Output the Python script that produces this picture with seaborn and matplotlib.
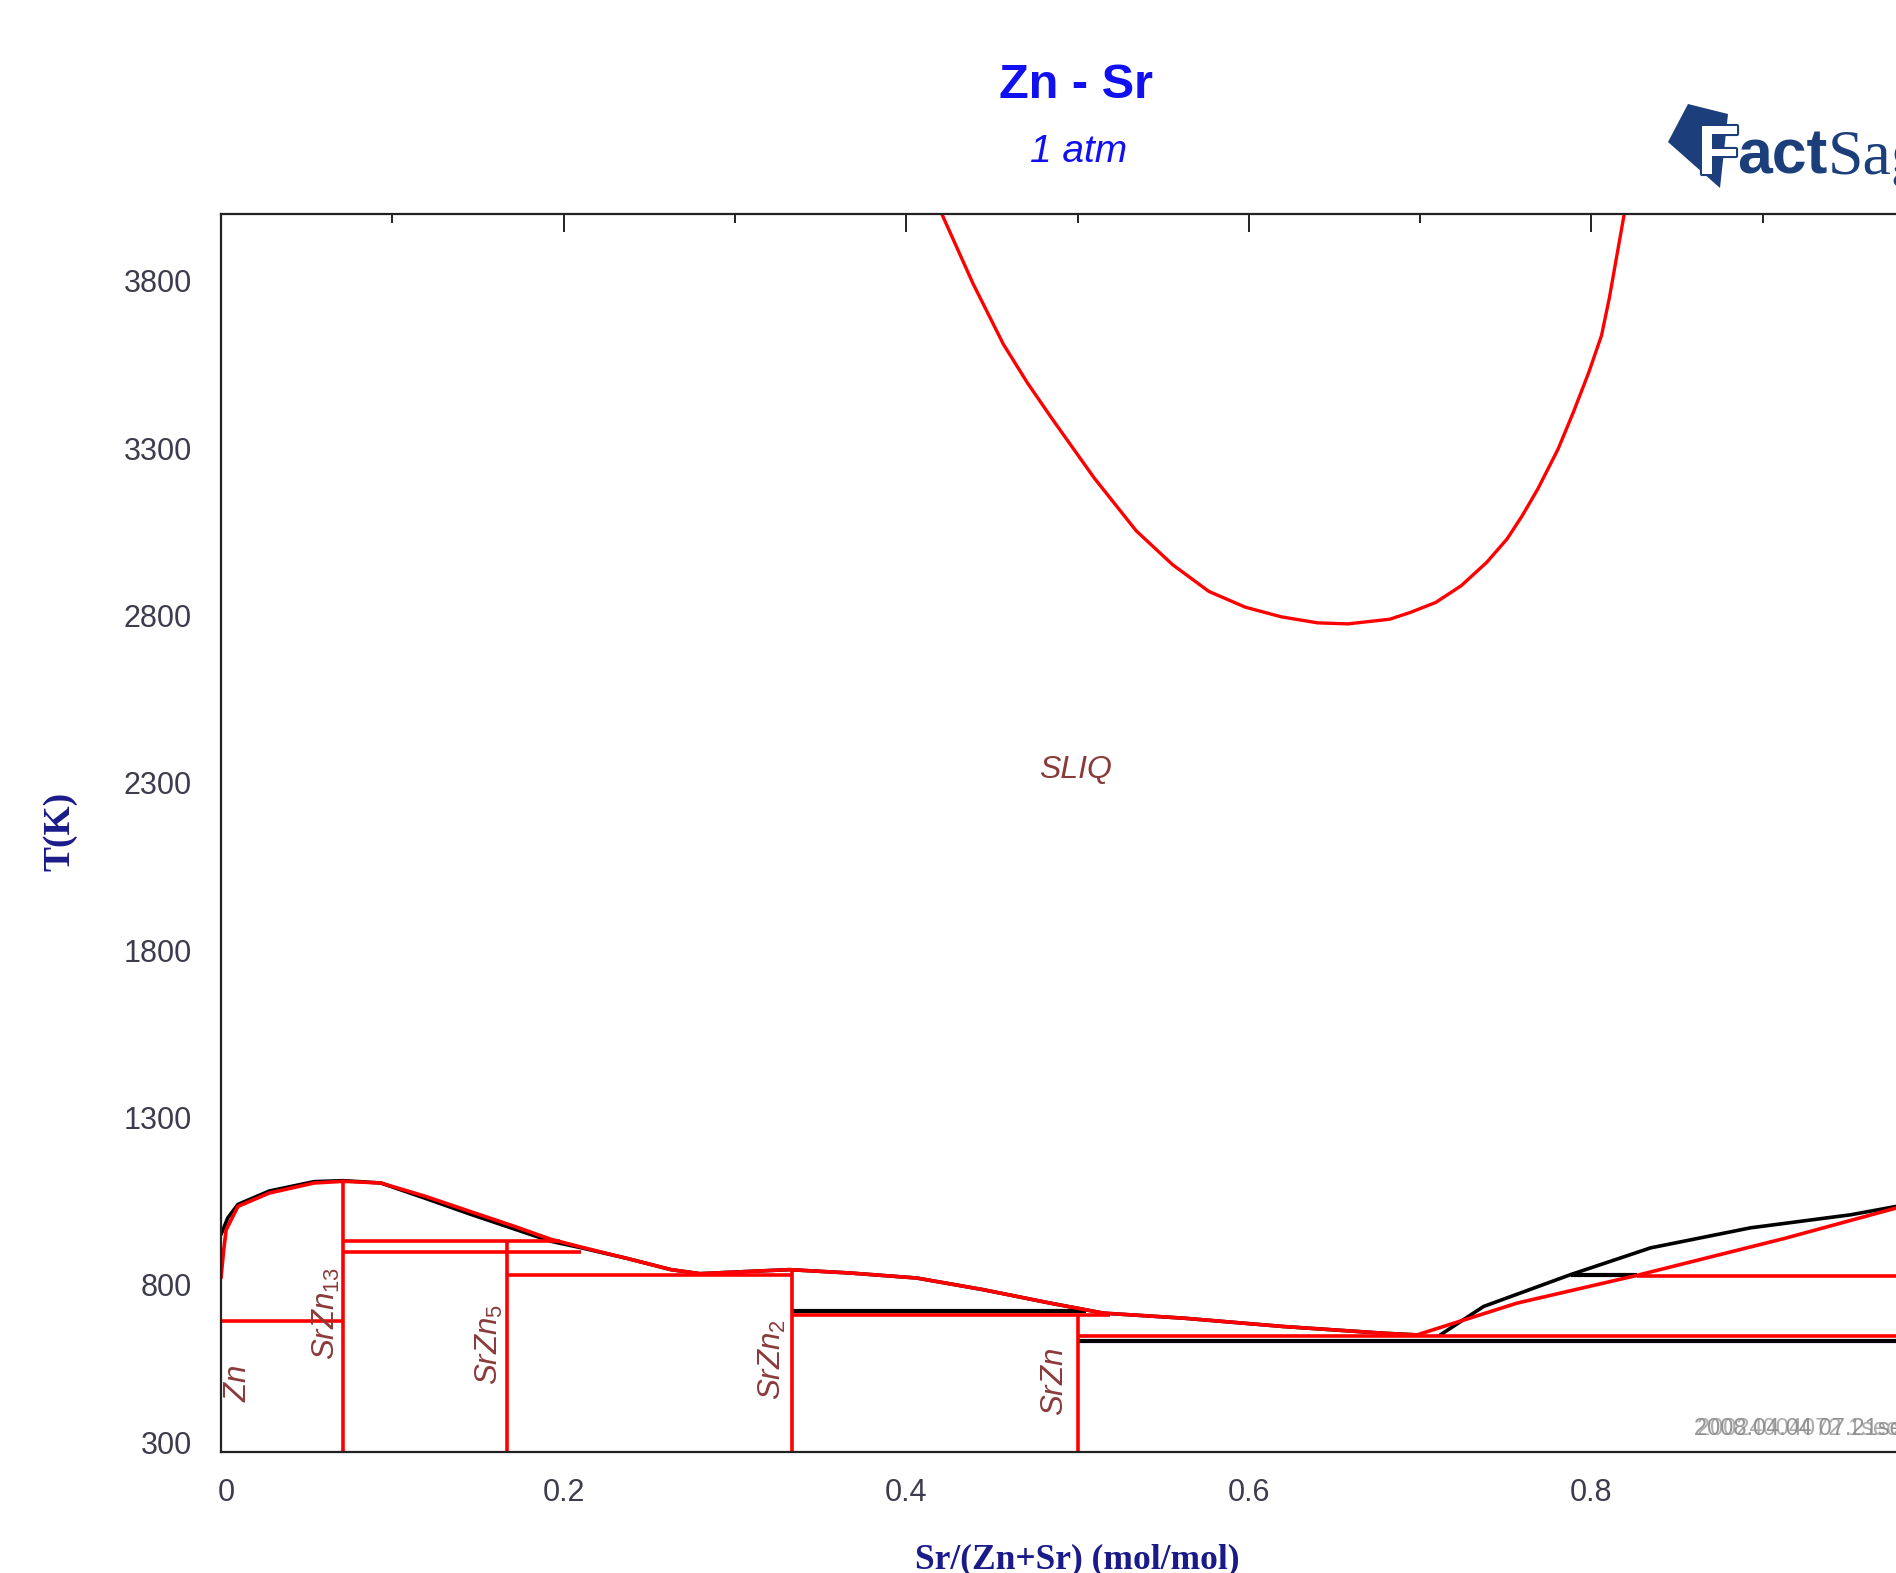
import matplotlib
matplotlib.use("Agg")
import matplotlib.pyplot as plt
import matplotlib.patheffects as pe
from matplotlib.patches import Polygon
from matplotlib.transforms import ScaledTranslation
import seaborn as sns

# --- data (x = Sr/(Zn+Sr), T in K) ---
# gas / liquid dome
dome_x = [0.4207, 0.4391, 0.4567, 0.4708, 0.4849, 0.5096, 0.5343, 0.5555, 0.5767,
          0.5979, 0.6190, 0.6402, 0.6579, 0.6823, 0.6942, 0.7091, 0.7240, 0.7389,
          0.7508, 0.7597, 0.7687, 0.7806, 0.7895, 0.7985, 0.8059, 0.8104, 0.8193]
dome_t = [4001, 3791, 3611, 3495, 3390, 3212, 3053, 2952, 2872,
          2825, 2796, 2778, 2775, 2789, 2809, 2839, 2889, 2959,
          3029, 3099, 3178, 3298, 3408, 3527, 3637, 3747, 4004]

# liquidus, Zn side up to the eutectic (red)
liq_x = [0.0, 0.0015, 0.003, 0.0099, 0.0282, 0.0543, 0.0714, 0.0933, 0.1194,
         0.1454, 0.1715, 0.1924, 0.2106, 0.2367, 0.2627, 0.2796, 0.3096, 0.3318,
         0.3672, 0.4061, 0.4451, 0.4840, 0.5152, 0.5619, 0.6203, 0.6787, 0.6982]
liq_t = [820, 900, 964, 1034, 1074, 1104, 1109, 1104, 1064,
         1019, 974, 936, 912, 879, 845, 833, 840, 845,
         835, 820, 785, 745, 715, 700, 675, 655, 650]

# same liquidus from the second calculation (black)
liq2_x = [0.0, 0.004, 0.0099, 0.0282, 0.0543, 0.0714, 0.0933, 0.1194, 0.1454,
          0.1715, 0.1924, 0.2106, 0.2367, 0.2627, 0.2796, 0.3096, 0.3318, 0.3672,
          0.4061, 0.4451, 0.4840, 0.5152, 0.5619, 0.6203, 0.6787, 0.6982]
liq2_t = [950, 1000, 1040, 1080, 1108, 1111, 1104, 1058, 1011,
          966, 930, 910, 879, 845, 833, 840, 845, 835,
          820, 785, 745, 715, 700, 675, 655, 650]

# Sr side liquidus
sr_red_x = [0.6982, 0.7566, 0.8267, 0.9125, 0.9778, 1.0]
sr_red_t = [650, 745, 828, 938, 1029, 1041]
sr_blk_x = [0.7118, 0.7371, 0.7878, 0.8345, 0.8929, 0.9514, 0.9780, 1.0]
sr_blk_t = [650, 735, 830, 910, 970, 1009, 1034, 1041]

# invariant lines (T, x_start, x_end)
red_h_t = [693, 932, 899, 830, 709, 647, 827]
red_h_x0 = [0.0, 0.0714, 0.0714, 0.1667, 0.3333, 0.5, 0.8267]
red_h_x1 = [0.0714, 0.198, 0.21, 0.3333, 0.519, 1.0, 1.0]
blk_h_t = [720, 633, 830]
blk_h_x0 = [0.3333, 0.5, 0.7878]
blk_h_x1 = [0.505, 1.0, 0.8267]

# compounds (vertical lines)
comp_x = [1 / 14, 1 / 6, 1 / 3, 0.5]
comp_top = [1109, 929, 845, 710]

# phase labels
lab_text = ["$Zn$", "$SrZn_{13}$", "$SrZn_{5}$", "$SrZn_{2}$", "$SrZn$"]
lab_x = [0.0099, 0.0613, 0.1565, 0.3217, 0.4869]
lab_t = [506, 713, 620, 575, 509]

x_ticks = [0, 0.2, 0.4, 0.6, 0.8, 1.0]
x_ticklabels = ["0", "0.2", "0.4", "0.6", "0.8", "1"]
y_ticks = [300, 800, 1300, 1800, 2300, 2800, 3300, 3800]
y_minor = [550, 1050, 1550, 2050, 2550, 3050, 3550]

RED = "#ff0000"
BLUE = "#1010f0"
NAVY = "#1a1a8a"
LABEL = "#8b3a3a"
LOGO = "#1c3f7c"
W, H = 1896, 1573

sns.set_theme(style="white")
plt.rcParams["font.family"] = ["Liberation Sans", "DejaVu Sans"]
plt.rcParams["mathtext.fontset"] = "custom"
plt.rcParams["mathtext.it"] = "Liberation Sans:italic"
plt.rcParams["mathtext.rm"] = "Liberation Sans"

fig = plt.figure(figsize=(W / 100, H / 100), dpi=100)
fig.patch.set_facecolor("white")


def fx(px):
    return px / W


def fy(py):
    return 1 - py / H


ax = fig.add_axes([fx(221), fy(1452), (1934 - 221) / W, (1452 - 214) / H])
ax.set_facecolor("white")

# black curves first, red on top
sns.lineplot(x=liq2_x, y=liq2_t, ax=ax, color="black", lw=2.6, sort=False, estimator=None)
sns.lineplot(x=sr_blk_x, y=sr_blk_t, ax=ax, color="black", lw=2.6, sort=False, estimator=None)
ax.hlines(blk_h_t, blk_h_x0, blk_h_x1, colors="black", lw=3.0)

sns.lineplot(x=dome_x, y=dome_t, ax=ax, color=RED, lw=2.4, sort=False, estimator=None)
sns.lineplot(x=liq_x, y=liq_t, ax=ax, color=RED, lw=2.6, sort=False, estimator=None)
sns.lineplot(x=sr_red_x, y=sr_red_t, ax=ax, color=RED, lw=2.6, sort=False, estimator=None)
ax.hlines(red_h_t, red_h_x0, red_h_x1, colors=RED, lw=2.6)
ax.vlines(comp_x, 300, comp_top, colors=RED, lw=2.6)

for t, x, T in zip(lab_text, lab_x, lab_t):
    ax.text(x, T, t, rotation=90, ha="center", va="center", color=LABEL, fontsize=22.5)
ax.text(0.499, 2338, "SLIQ", ha="center", va="center", color=LABEL,
        fontsize=23, fontstyle="italic")

ax.set_xlim(0, 1)
ax.set_ylim(300, 4000)
ax.set_xticks(x_ticks)
ax.set_xticklabels(x_ticklabels)
ax.set_xticks([0.1, 0.3, 0.5, 0.7, 0.9], minor=True)
ax.set_yticks(y_ticks)
ax.set_yticks(y_minor, minor=True)
ax.set_xlabel("")
ax.set_ylabel("")
ax.grid(False)
ax.tick_params(which="both", direction="in", top=True, right=True,
               colors="#222222", labelcolor="#3c3c4c", labelsize=22)
ax.tick_params(which="major", length=13, width=1.4)
ax.tick_params(which="minor", length=6.5, width=1.4)
ax.tick_params(axis="y", which="major", pad=21)
ax.tick_params(axis="x", which="major", pad=19)
for s in ax.spines.values():
    s.set_color("#222222")
    s.set_linewidth(1.6)

# bottom-left labels are nudged in the original
ylab0 = ax.get_yticklabels()[0]
ylab0.set_transform(ylab0.get_transform() + ScaledTranslation(0, 0.1, fig.dpi_scale_trans))
xlab0 = ax.get_xticklabels()[0]
xlab0.set_transform(xlab0.get_transform() + ScaledTranslation(0.05, 0, fig.dpi_scale_trans))

# titles and axis titles
fig.text(fx(1076), fy(85), "Zn - Sr", ha="center", va="center", color=BLUE,
         fontsize=35, fontweight="bold")
fig.text(fx(1079), fy(152), "1 atm", ha="center", va="center", color=BLUE,
         fontsize=28, fontstyle="italic")
fig.text(fx(1077), fy(1560), "Sr/(Zn+Sr) (mol/mol)", ha="center", va="center",
         color=NAVY, fontsize=25.5, fontweight="bold", family="Liberation Serif")
fig.text(fx(60), fy(831), "T(K)", ha="center", va="center", rotation=90,
         color=NAVY, fontsize=27, fontweight="bold", family="Liberation Serif")

# FactSage logo (rough)
logo = Polygon([(fx(1668), fy(142)), (fx(1688), fy(104)), (fx(1728), fy(114)),
                (fx(1720), fy(188))], closed=True, transform=fig.transFigure,
               facecolor=LOGO, edgecolor="none")
fig.add_artist(logo)
fig.text(fx(1697), fy(174), "F", ha="left", va="baseline", color="white",
         fontsize=50, fontweight="bold",
         path_effects=[pe.withStroke(linewidth=3, foreground=LOGO)])
fig.text(fx(1737), fy(174), "act", ha="left", va="baseline", color=LOGO,
         fontsize=45, fontweight="bold")
fig.text(fx(1828), fy(174), "Sage", ha="left", va="baseline", color=LOGO,
         fontsize=46, family="Liberation Serif")

# date stamp (two overlapping prints in the original)
fig.text(fx(1694), fy(1429), "2008.04.04 07.21sec", ha="left", va="center",
         color="#8a8a8a", fontsize=17, alpha=0.9)
fig.text(fx(1697), fy(1429), "20024004072 1sec", ha="left", va="center",
         color="#8a8a8a", fontsize=17, alpha=0.7)

fig.savefig("out.png", dpi=100, facecolor="white")
